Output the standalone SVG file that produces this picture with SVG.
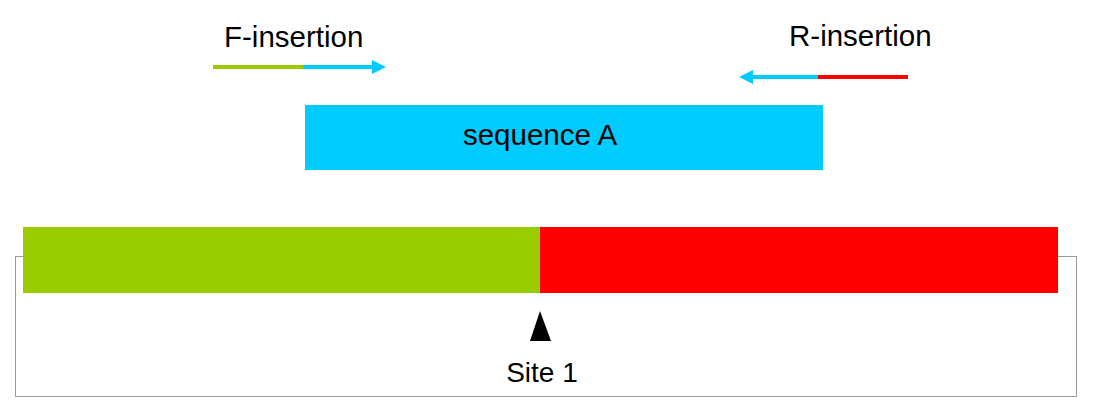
<svg xmlns="http://www.w3.org/2000/svg" width="1102" height="417" viewBox="0 0 1102 417">
<style>
text{font-family:"Liberation Sans",Arial,sans-serif;font-size:29.5px;fill:#000}
.line{stroke-width:4;fill:none}
</style>
<defs>
<marker id="ah" viewBox="0 0 14 14" refX="0" refY="7" markerWidth="14" markerHeight="14" markerUnits="userSpaceOnUse" orient="auto">
<path d="M0,0 L14,7 L0,14 Z" fill="#00CCFF"/>
</marker>
</defs>
<rect width="1102" height="417" fill="#fff"/>
<g id="frame">
<rect x="15.5" y="256.5" width="1061" height="140" fill="none" stroke="#333" stroke-width="1" stroke-dasharray="1,1"/>
</g>
<g id="f-insertion">
<text x="224" y="47">F-insertion</text>
<line class="line" x1="213" y1="67" x2="303" y2="67" stroke="#99CC00"/>
<line class="line" x1="303" y1="67" x2="372" y2="67" stroke="#00CCFF" marker-end="url(#ah)"/>
</g>
<g id="r-insertion">
<text x="789" y="46">R-insertion</text>
<line class="line" x1="908" y1="77" x2="818" y2="77" stroke="#FF0000"/>
<line class="line" x1="818" y1="77" x2="753" y2="77" stroke="#00CCFF" marker-end="url(#ah)"/>
</g>
<g id="sequence-a">
<rect x="305" y="105" width="518" height="65" fill="#00CCFF"/>
<text x="540" y="145" text-anchor="middle">sequence A</text>
</g>
<g id="chromosome">
<rect x="23" y="227" width="517" height="66" fill="#99CC00"/>
<rect x="540" y="227" width="518" height="66" fill="#FF0000"/>
</g>
<g id="site-1">
<path d="M540,311 L551,341 L530,341 Z" fill="#000"/>
<text x="542" y="382" text-anchor="middle" style="font-size:28px">Site 1</text>
</g>
</svg>
